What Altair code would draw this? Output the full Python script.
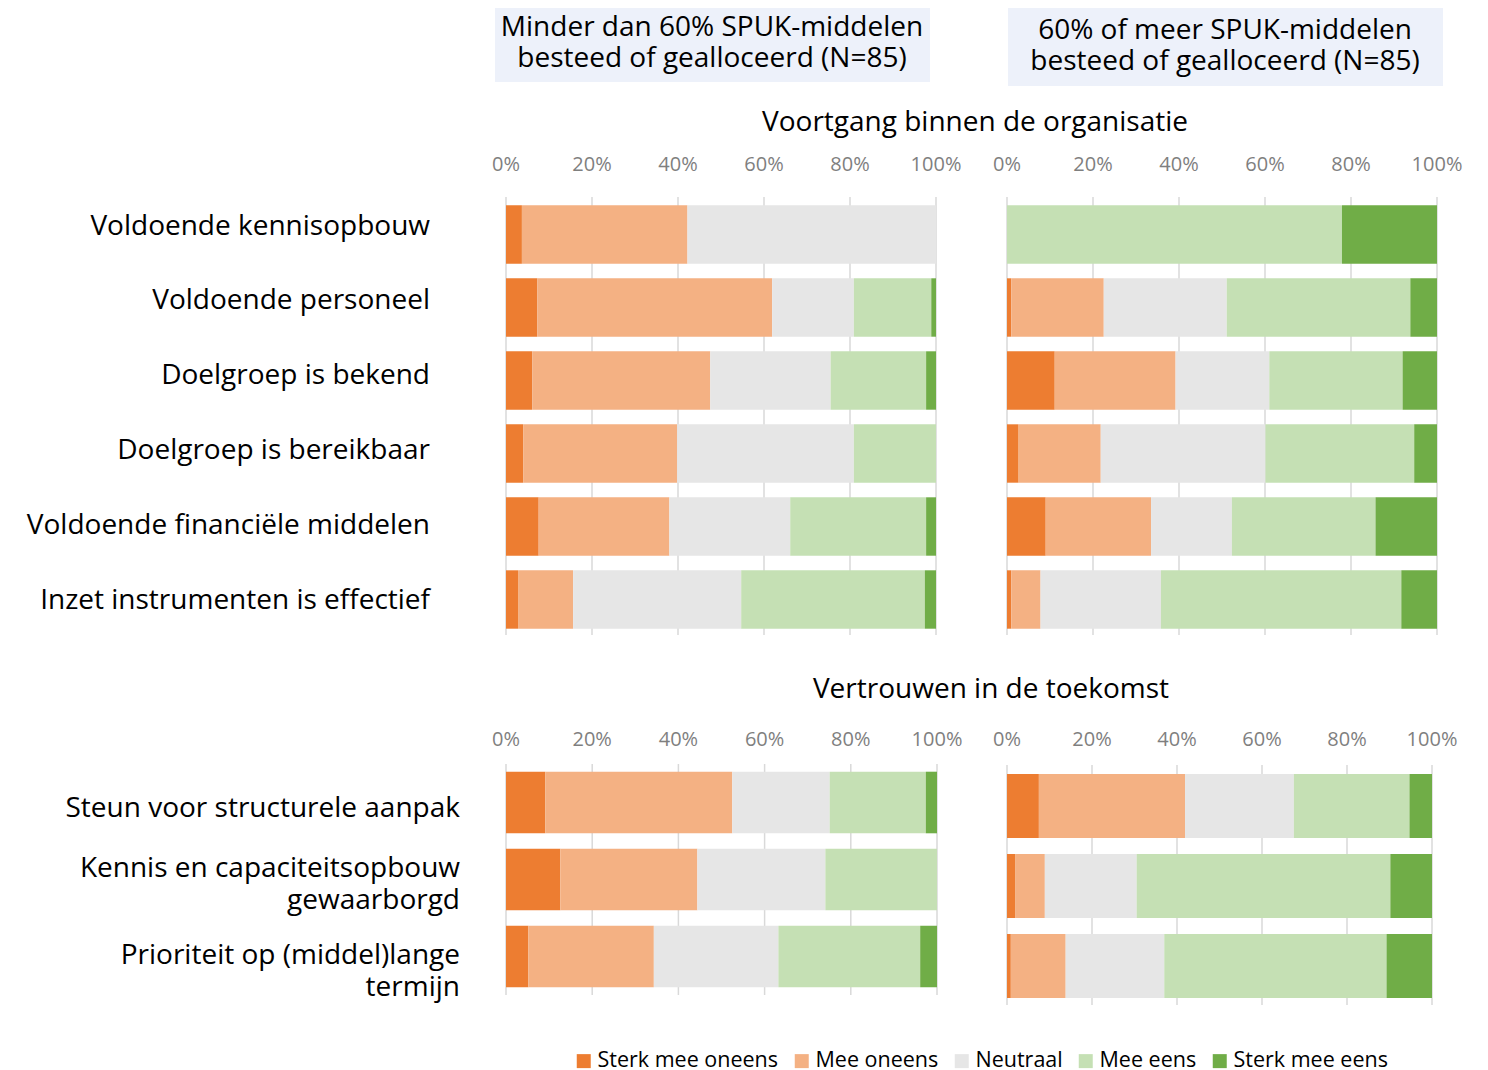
import altair as alt
import pandas as pd

FONT = "Open Sans"

LEVELS = ["Sterk mee oneens", "Mee oneens", "Neutraal", "Mee eens", "Sterk mee eens"]
COLORS = ["#ED7D31", "#F4B183", "#E6E6E6", "#C5E0B4", "#70AD47"]

CATS_TOP = ["Voldoende kennisopbouw", "Voldoende personeel", "Doelgroep is bekend",
            "Doelgroep is bereikbaar", "Voldoende financiële middelen",
            "Inzet instrumenten is effectief"]
CATS_BOT = ["Steun voor structurele aanpak", "Kennis en capaciteitsopbouw\ngewaarborgd",
            "Prioriteit op (middel)lange\ntermijn"]

TICK_VALUES = [0, 0.2, 0.4, 0.6, 0.8, 1.0]
TICK_LABELS = ["0%", "20%", "40%", "60%", "80%", "100%"]

# Top-left: < 60% besteed
TL_STERK_ONEENS = [3.7, 7.3, 6.1, 4.0, 7.6, 2.8]
TL_ONEENS = [38.5, 54.6, 41.4, 35.8, 30.4, 12.8]
TL_NEUTRAAL = [57.8, 19.0, 28.0, 41.1, 28.1, 39.1]
TL_EENS = [0.0, 18.0, 22.2, 19.1, 31.6, 42.7]
TL_STERK_EENS = [0.0, 1.1, 2.3, 0.0, 2.3, 2.6]

# Top-right: >= 60% besteed
TR_STERK_ONEENS = [0.0, 1.0, 11.1, 2.7, 9.0, 1.0]
TR_ONEENS = [0.0, 21.5, 28.1, 19.1, 24.5, 6.8]
TR_NEUTRAAL = [0.0, 28.6, 21.8, 38.3, 18.8, 28.0]
TR_EENS = [77.9, 42.7, 31.0, 34.6, 33.4, 55.9]
TR_STERK_EENS = [22.1, 6.2, 8.0, 5.3, 14.3, 8.3]

# Bottom-left
BL_STERK_ONEENS = [9.1, 12.6, 5.2]
BL_ONEENS = [43.4, 31.8, 29.1]
BL_NEUTRAAL = [22.6, 29.7, 28.9]
BL_EENS = [22.3, 25.9, 32.9]
BL_STERK_EENS = [2.6, 0.0, 3.9]

# Bottom-right
BR_STERK_ONEENS = [7.5, 1.9, 0.9]
BR_ONEENS = [34.4, 7.0, 12.9]
BR_NEUTRAAL = [25.6, 21.6, 23.2]
BR_EENS = [27.2, 59.7, 52.3]
BR_STERK_EENS = [5.3, 9.8, 10.7]

# label offsets (pixels from the top of each band) so category labels sit as in the reference
TOP_LABEL_NUDGE = [22, 23, 25, 27, 29, 31]
BOT_LABEL_NUDGE = [37, 20, 30]

HEADER_LEFT = "Minder dan 60% SPUK-middelen\nbesteed of gealloceerd (N=85)"
HEADER_RIGHT = "60% of meer SPUK-middelen\nbesteed of gealloceerd (N=85)"
TITLE_TOP = "Voortgang binnen de organisatie"
TITLE_BOT = "Vertrouwen in de toekomst"

LEGEND = alt.Legend(orient="none", legendX=565, legendY=1042, direction="horizontal",
                    title=None, symbolType="square", symbolSize=196, symbolStrokeWidth=0,
                    labelFontSize=21.5, labelFont=FONT, labelColor="#000000",
                    labelLimit=400, columnPadding=12, labelOffset=3)


def panel_df(cats, series):
    rows = []
    for li, (lev, vals) in enumerate(zip(LEVELS, series)):
        for c, v in zip(cats, vals):
            rows.append(dict(cat=c, level=lev, ord=li, value=v))
    return pd.DataFrame(rows)


def panel(cats, series, xr, yr, grid_y, tick_y, label_x=None, nudge=None):
    xs = alt.Scale(domain=[0, 1], range=xr, nice=False, zero=True)
    ys = alt.Scale(domain=cats, range=yr, paddingInner=0.2, paddingOuter=0.1)
    ticks = pd.DataFrame({"t": TICK_VALUES, "lab": TICK_LABELS})
    grid = alt.Chart(ticks).mark_rule(color="#D9D9D9", strokeWidth=1.5).encode(
        x=alt.X("t:Q", scale=xs, axis=None),
        y=alt.value(grid_y[0]), y2=alt.value(grid_y[1]))
    bars = alt.Chart(panel_df(cats, series)).mark_bar().encode(
        x=alt.X("value:Q", stack="normalize", scale=xs, axis=None),
        y=alt.Y("cat:N", scale=ys, axis=None, sort=cats),
        color=alt.Color("level:N", scale=alt.Scale(domain=LEVELS, range=COLORS),
                        sort=LEVELS, legend=LEGEND),
        order=alt.Order("ord:Q"))
    tick_text = alt.Chart(ticks).mark_text(font=FONT, fontSize=20, color="#7F7F7F",
                                           baseline="middle").encode(
        x=alt.X("t:Q", scale=xs, axis=None), y=alt.value(tick_y), text="lab:N")
    layers = [grid, bars, tick_text]
    if label_x is not None:
        ldf = pd.DataFrame({"cat": cats, "nudge": nudge})
        lab = alt.Chart(ldf).mark_text(align="right", baseline="middle", fontSize=28,
                                       font=FONT, lineBreak="\n", color="#000000",
                                       lineHeight=32).encode(
            y=alt.Y("cat:N", scale=ys, axis=None, sort=cats),
            yOffset=alt.YOffset("nudge:Q", scale=None),
            x=alt.value(label_x), text="cat:N")
        layers.append(lab)
    return alt.layer(*layers)


one = pd.DataFrame({"a": [0]})


def box(x0, x1, y0, y1):
    return alt.Chart(one).mark_rect(color="#EDF1FA").encode(
        x=alt.value(x0), x2=alt.value(x1), y=alt.value(y0), y2=alt.value(y1))


def label(txt, x, y, size=28):
    return alt.Chart(one).mark_text(text=txt, font=FONT, fontSize=size, color="#000000",
                                    align="center", baseline="middle", lineBreak="\n",
                                    lineHeight=31).encode(x=alt.value(x), y=alt.value(y))


tl = panel(CATS_TOP, [TL_STERK_ONEENS, TL_ONEENS, TL_NEUTRAAL, TL_EENS, TL_STERK_EENS],
           [498, 928], [190, 628], [189, 627], 157, label_x=422, nudge=TOP_LABEL_NUDGE)
tr = panel(CATS_TOP, [TR_STERK_ONEENS, TR_ONEENS, TR_NEUTRAAL, TR_EENS, TR_STERK_EENS],
           [999, 1429], [190, 628], [189, 627], 157)
bl = panel(CATS_BOT, [BL_STERK_ONEENS, BL_ONEENS, BL_NEUTRAAL, BL_EENS, BL_STERK_EENS],
           [498, 929], [756, 987], [756, 987], 732, label_x=452, nudge=BOT_LABEL_NUDGE)
br = panel(CATS_BOT, [BR_STERK_ONEENS, BR_ONEENS, BR_NEUTRAAL, BR_EENS, BR_STERK_EENS],
           [999, 1424], [758, 998], [757, 997], 732)

chart = alt.layer(
    box(487, 922, 0, 74), box(1000, 1435, 0, 78),
    label(HEADER_LEFT, 704, 20), label(HEADER_RIGHT, 1217, 23),
    label(TITLE_TOP, 967, 115), label(TITLE_BOT, 983, 682),
    tl, tr, bl, br,
).resolve_scale(x="independent", y="independent", color="shared").properties(
    width=1472, height=1062, padding=0, autosize=alt.AutoSizeParams(type="none")
).configure_view(stroke=None)

chart.save("out.html", embed_options={"renderer": "svg", "actions": False})
